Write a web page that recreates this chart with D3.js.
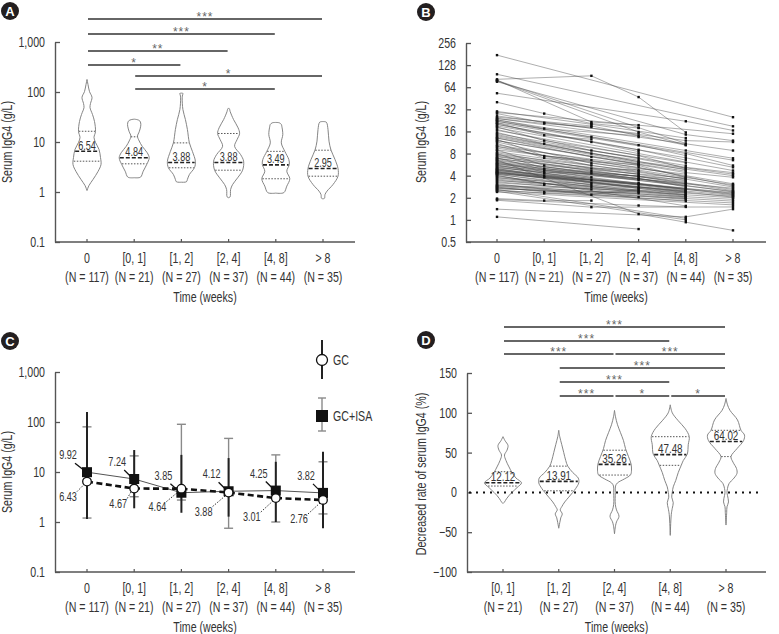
<!DOCTYPE html>
<html><head><meta charset="utf-8">
<script src="https://cdn.jsdelivr.net/npm/d3@7"></script>
<style>
body{margin:0;background:#fff}
svg text{font-family:"Liberation Sans",Arial,sans-serif;fill:#333}
</style></head><body><svg id="c" width="779" height="634"></svg>
<script>
const _ = null;
// ---------- shared categories ----------
const timeCats = ["0","[0, 1]","[1, 2]","[2, 4]","[4, 8]","> 8"];
const timeN = ["(N = 117)","(N = 21)","(N = 27)","(N = 37)","(N = 44)","(N = 35)"];
const rateCats = ["[0, 1]","[1, 2]","[2, 4]","[4, 8]","> 8"];
const rateN = ["(N = 21)","(N = 27)","(N = 37)","(N = 44)","(N = 35)"];
const logTicks = [0.1,1,10,100,1000];
const log2Ticks = [0.5,1,2,4,8,16,32,64,128,256];
const rateTicks = [-100,-50,0,50,100,150];

// ---------- Panel A: violin profiles [value, density] ----------
const violinA = [
 [[178,0],[141,1],[102,2.5],[78,5],[59,3.5],[49,3],[35.5,5.5],[25.7,7.5],[16.2,8.5],[12.3,7],[9.8,8.5],[7.1,12],[4.9,13.5],[3.55,14],[2.57,11],[1.78,6],[1.35,2],[1.07,0]],
 [[28.6,0],[28,3],[26.5,5.5],[24,6.5],[20.7,6.5],[16,5],[13.1,3.3],[10.5,5],[8.2,8],[6.1,13],[4.83,15],[3.55,12.5],[2.6,9],[1.98,6.3],[1.93,0]],
 [[95,0],[93,1.7],[88,1.2],[76.5,0.8],[44.7,1.5],[28.2,4],[17.8,6],[9.6,8],[6.5,11],[4.1,14],[3.05,13],[2.24,8],[1.78,6],[1.6,5],[1.57,0]],
 [[48,0],[45,1],[41,1.5],[28,5],[19.2,9.5],[14.8,11],[11.2,8.5],[8.2,6],[5.6,12],[4.14,15],[2.73,14],[1.92,9],[1.41,4],[1.12,2],[0.8,1.5],[0.77,0]],
 [[24.6,0],[24.2,3.5],[22.5,5.5],[20.7,6],[14.1,7],[9.6,5.5],[6.5,9],[4.47,13],[3.55,13.5],[2.6,11],[1.84,14],[1.31,11],[0.97,8],[0.95,0]],
 [[25.6,0],[24.9,3.3],[17.8,5],[10.4,6],[6.9,8],[4.47,12],[2.95,15],[2.07,15],[1.41,10],[1.04,4],[0.89,2],[0.75,1.5],[0.73,0]]
];
const medianA = [6.54,4.84,3.88,3.88,3.49,2.95];
const q1A = [4.13,3.66,3.05,2.73,1.84,2.07];
const q3A = [16.4,12.7,9.6,14.8,6.5,6.85];
const sigA = [[0,5,"***"],[0,4,"***"],[0,3,"**"],[0,2,"*"],[1,5,"*"],[1,4,"*"]];

// ---------- Panel B: individual patients (null = not measured) ----------
const patients = [
[175,_,_,_,_,25],[96,_,_,_,_,18.8],[82,_,91.5,47,15.5,_],[80,_,21.5,19.5,_,_],[79,_,_,18,11,_],
[78,_,_,15.7,10.5,_],[76,_,_,_,14.5,12],[53,_,_,_,22,16.5],[40,28,20.5,17.8,_,_],[30,_,20,_,13,_],
[29,_,_,_,_,14.9],[28,21,_,15,_,_],[26,_,_,_,12,11.5],[25,_,19,_,10.4,_],[24,20.5,18.4,_,_,_],
[24,_,_,13.4,_,8.8],[23,17.5,_,14,_,_],[23,_,_,_,8.8,6.9],[22,_,_,10.4,7.5,_],[22,_,13.5,_,_,6.5],
[21,14.2,12.5,_,_,_],[21,_,_,_,8,5.5],[20,_,_,9,6.5,_],[20,_,11.5,8.5,_,_],[19,_,_,_,7,5.2],
[18.5,12,_,_,6,_],[18,_,_,8,_,4.7],[17,_,8.8,_,5.5,_],[16.5,_,_,7.5,5,_],[15.5,10.9,_,7,_,_],
[15,_,_,_,5.2,4.4],[14.5,_,8,6.5,_,_],[14,_,_,6.2,_,4.2],[13.5,_,_,_,4.8,_],[13,_,7.2,_,4.6,_],
[13,_,_,6,_,4],[12.5,7.4,6.5,_,_,_],[12,_,_,_,4.4,3.8],[12,_,_,5.8,_,_],[11.5,_,5.9,_,4.2,_],
[11,7,_,5.6,_,_],[10.5,_,_,_,4,3.1],[10,_,_,5.5,3.8,_],[10,_,5.5,_,_,_],[9.5,_,_,_,_,3],
[9,5.5,_,_,3.7,_],[9,_,_,5.2,_,2.9],[8.5,_,_,_,3.6,_],[8.2,_,5,4.8,_,_],[8,5,_,_,3.5,_],
[7.8,_,_,4.6,_,2.8],[7.6,_,_,_,3.4,_],[7.4,_,4.6,_,3.3,_],[7.2,_,_,4.4,_,_],[7,4.8,_,_,_,2.7],
[6.9,_,_,_,3.2,2.6],[6.8,_,_,4.2,_,_],[6.6,_,4.3,_,3.1,_],[6.54,_,_,1.2,0.93,0.72],[6.4,_,_,_,3,_],
[6.3,4.5,_,4,_,_],[6.1,_,_,3.9,_,2.5],[6,_,_,_,2.9,_],[5.9,_,3.8,_,_,_],[5.8,_,_,3.7,2.8,_],
[5.7,_,_,_,_,2.45],[5.6,4.3,_,_,2.7,_],[5.5,_,_,_,2.6,_],[5.4,_,_,3.6,_,2.4],[5.3,_,3.5,_,_,_],
[5.2,_,_,_,2.55,_],[5.1,_,_,3.5,_,_],[5,4,_,_,_,2.35],[4.95,_,_,_,2.5,_],[4.9,_,_,_,2.2,_],
[4.8,_,3.2,_,2.45,_],[4.75,_,_,_,_,2.3],[4.7,_,_,_,_,2.25],[4.6,_,_,_,2.4,_],[4.55,3.8,_,3.2,_,_],
[4.5,_,3,_,_,_],[4.45,_,_,_,2.35,_],[4.4,_,_,3.1,_,2.2],[4.35,_,_,_,2.3,_],[4.3,_,_,_,_,2.15],
[4.25,_,_,3,_,_],[4.2,_,2.8,_,2.2,_],[4.15,_,_,_,2.15,_],[4.05,3.1,_,_,_,2.1],[4,_,_,_,1.55,_],
[3.9,_,_,_,2.1,_],[3.8,_,2.6,_,_,_],[3.7,_,_,2.8,_,2.04],[3.6,_,_,_,2.05,_],[3.5,3,_,_,_,_],
[3.4,_,_,2.7,_,_],[3.3,_,_,_,2,_],[3.2,_,_,_,_,2],[3.1,_,2.2,2.6,_,_],[3,_,_,_,1.95,_],
[2.95,_,_,2.5,_,_],[2.9,_,_,_,_,1.9],[2.85,_,_,_,1.9,_],[2.8,2.4,_,2.4,_,_],[2.75,_,_,_,1.8,_],
[2.7,_,_,_,_,1.8],[2.65,_,_,2.3,_,_],[2.6,_,_,_,1.05,_],[2.55,2.3,_,_,_,1.7],[2.5,_,_,2.04,_,_],
[2.45,_,_,_,1,_],[2.4,_,_,_,_,1.6],[1.95,1.83,1.83,_,_,_],[1.9,_,_,1.57,1.5,_],[1.85,_,1.49,_,_,1.5],
[1.4,_,_,_,1.1,1.4],[1.1,_,_,0.75,_,_]
];

// ---------- Panel C: medians and ranges ----------
const gcMedian = [6.43,4.67,4.64,3.88,3.01,2.76];
const gcLow = [1.15,1.88,1.53,1.28,1.0,0.75];
const gcHigh = [158,27.5,22,19,16,25.5];
const isaMedian = [9.92,7.24,3.85,4.12,4.25,3.82];
const isaLow = [1.2,3.2,2.75,0.75,1.0,1.45];
const isaHigh = [80,21,90,47,22,16];
const seriesNames = ["GC","GC+ISA"];

// ---------- Panel D ----------
const violinD = [
 [[70,0],[65,2],[59,5],[53,4],[47,1.5],[40,3],[32,6],[25,9],[18,13],[12,18.5],[6,14],[0,9],[-4,6],[-8,3.5],[-12,1.5],[-14,0]],
 [[78,0],[70,1],[60,3],[50,5],[40,7],[33,9],[25,14],[18,19.5],[12,20],[5,17],[0,14],[-6,10],[-12,6],[-18,3],[-22,1.5],[-27,3.5],[-32,2],[-38,1],[-45,0]],
 [[103,0],[95,1],[85,3],[75,6],[65,9],[55,11],[45,14],[36,16.5],[28,17],[22,16],[17,10],[12,3],[8,1],[0,0.8],[-15,0.8],[-22,2],[-30,4.5],[-37,2],[-42,1],[-52,0]],
 [[110,0],[100,2],[90,8],[80,15],[70,19],[60,18],[48,17],[40,13],[34,11],[25,8],[15,5.5],[7,3],[0,2],[-6,1.5],[-13,3],[-20,2],[-28,1],[-54,0]],
 [[118,0],[110,1.5],[103,4],[91,11.5],[78,15],[72,18.5],[65,17.5],[55,11],[45,5],[38,7],[30,10.5],[24,11],[18,8],[11,3],[5,1.5],[0,1],[-4,1.5],[-12,2.5],[-18,1],[-25,0.7],[-41,0]]
];
const medianD = [12.12,13.91,35.26,47.48,64.02];
const q1D = [8,2,21.8,34,45];
const q3D = [26,33,53,70,78];
const sigD = [[0,4,"***"],[0,3,"***"],[0,2,"***"],[2,4,"***"],[1,4,"***"],[1,3,"***"],[1,2,"***"],[2,3,"*"],[3,4,"*"]];

// ================= drawing =================
const svg = d3.select("#c");
const AX = "#555";
const SX = 0.76; // horizontal condensing of the text face
const FS = 14;

function T(g,x,y,str,size,anchor,extra){
  return g.append("text").attr("transform",`translate(${x},${y})${extra||""} scale(${SX},1)`)
    .attr("text-anchor",anchor||"middle").style("font-size",size+"px").text(str);
}

function badge(x,y,l){
  svg.append("circle").attr("cx",x).attr("cy",y).attr("r",9).attr("fill","#231f20");
  svg.append("text").attr("x",x).attr("y",y+4.5).attr("text-anchor","middle")
    .style("font-weight","bold").style("font-size","13px").style("fill","#fff").text(l);
}

function axes(o){
  const g = svg.append("g");
  const ya = d3.axisLeft(o.y).tickValues(o.ticks).tickFormat(o.fmt).tickSizeInner(-5).tickSizeOuter(0).tickPadding(9);
  const ag = g.append("g").attr("transform",`translate(${o.ax},0)`).call(ya);
  ag.select(".domain").attr("stroke",AX).attr("stroke-width",1.4);
  ag.selectAll(".tick line").attr("stroke",AX).attr("stroke-width",1.3);
  ag.selectAll(".tick text").style("font-size",FS+"px").style("font-family","'Liberation Sans',Arial,sans-serif").style("fill","#333")
    .attr("x",-10/SX).attr("transform",`scale(${SX},1)`);
  const y0 = o.y.range()[0];
  g.append("line").attr("x1",o.ax).attr("x2",o.xEnd).attr("y1",y0).attr("y2",y0).attr("stroke",AX).attr("stroke-width",1.4);
  o.cats.forEach((c,i)=>{
    const x = o.x(c);
    g.append("line").attr("x1",x).attr("x2",x).attr("y1",y0).attr("y2",y0-3).attr("stroke",AX).attr("stroke-width",1.2);
    T(g,x,y0+21,c,FS);
    T(g,x,y0+40,o.ns[i],FS);
  });
  T(g,(o.ax+o.xEnd)/2,y0+60,"Time (weeks)",FS);
  T(g,o.ylx,o.lyc,o.ylab,FS,"middle"," rotate(-90)");
}

function halfAt(profile, v, y){
  const py = y(v);
  for(let i=0;i<profile.length-1;i++){
    const a=profile[i], b=profile[i+1], ya=y(a[0]), yb=y(b[0]);
    if(py>=ya && py<=yb){ const t=(py-ya)/(yb-ya||1); return a[1]+(b[1]-a[1])*t; }
  }
  return 0;
}

function violins(o){
  const g = svg.append("g");
  const area = d3.area().y(d=>o.y(d[0])).x0(d=>-o.w(d[1])).x1(d=>o.w(d[1])).curve(d3.curveCatmullRom.alpha(0.5));
  o.cats.forEach((c,i)=>{
    const cx = o.x(c);
    const vg = g.append("g").attr("transform",`translate(${cx},0)`);
    vg.append("path").attr("d",area(o.prof[i])).attr("fill","none").attr("stroke","#777").attr("stroke-width",0.9);
    [[o.q1[i],"1.5,1.5",1,"#555"],[o.q3[i],"1.5,1.5",1,"#555"],[o.med[i],"4,2",1.6,"#222"]].forEach(([v,da,sw,col])=>{
      const h = o.w(halfAt(o.prof[i],v,o.y))*0.96;
      vg.append("line").attr("x1",-h).attr("x2",h).attr("y1",o.y(v)).attr("y2",o.y(v))
        .attr("stroke",col).attr("stroke-width",sw).attr("stroke-dasharray",da);
    });
    T(vg,0,o.y(o.med[i])-1.5,o.fmt(o.med[i]),o.fs);
  });
}

function sigBars(o){
  const g = svg.append("g");
  o.sig.forEach((s,k)=>{
    const x1=o.x(o.cats[s[0]])+1, x2=o.x(o.cats[s[1]])-1, yy=o.levels[k];
    g.append("line").attr("x1",x1).attr("x2",x2).attr("y1",yy).attr("y2",yy).attr("stroke","#333").attr("stroke-width",1.6);
    g.append("text").attr("x",(x1+x2)/2).attr("y",yy+2).attr("text-anchor","middle")
      .style("font-size","12px").style("letter-spacing","1px").style("fill","#666").text(s[2]);
  });
}

// ---------- Panel A ----------
const xA = d3.scalePoint().domain(timeCats).range([87,323]);
const yA = d3.scaleLog().domain([0.1,1000]).range([242,42]);
const fmtLog = d3.format(",");
axes({y:yA,x:xA,ticks:logTicks,fmt:v=>fmtLog(v),ax:55,xEnd:355,cats:timeCats,ns:timeN,ylab:"Serum IgG4 (g/L)",ylx:12,lyc:142});
violins({x:xA,y:yA,cats:timeCats,prof:violinA,q1:q1A,q3:q3A,med:medianA,w:d3.scaleLinear().domain([0,15]).range([0,15]),fmt:d3.format(".2f"),fs:12});
sigBars({x:xA,cats:timeCats,sig:sigA,levels:[19,34,51,65,76,89]});
badge(10,11,"A");

// ---------- Panel B ----------
const xB = d3.scalePoint().domain(timeCats).range([497,733]);
const yB = d3.scaleLog().base(2).domain([0.5,256]).range([242,43]);
axes({y:yB,x:xB,ticks:log2Ticks,fmt:d3.format("~g"),ax:466,xEnd:766,cats:timeCats,ns:timeN,ylab:"Serum IgG4 (g/L)",ylx:426,lyc:142});
const gB = svg.append("g");
const lineB = d3.line().x(d=>xB(timeCats[d[0]])).y(d=>yB(d[1]));
patients.forEach(p=>{
  const pts = p.map((v,i)=>[i,v]).filter(d=>d[1]!==null);
  gB.append("path").attr("d",lineB(pts)).attr("fill","none").attr("stroke","#444").attr("stroke-width",0.55).attr("stroke-opacity",0.8);
});
patients.forEach(p=>{
  p.forEach((v,i)=>{ if(v===null) return;
    gB.append("rect").attr("x",xB(timeCats[i])-1.2).attr("y",yB(v)-1.2).attr("width",2.4).attr("height",2.4).attr("fill","#111");
  });
});
badge(426,12,"B");

// ---------- Panel C ----------
const xC = d3.scalePoint().domain(timeCats).range([87,323]);
const yC = d3.scaleLog().domain([0.1,1000]).range([572,372]);
axes({y:yC,x:xC,ticks:logTicks,fmt:v=>fmtLog(v),ax:55,xEnd:355,cats:timeCats,ns:timeN,ylab:"Serum IgG4 (g/L)",ylx:12,lyc:472});
const gC = svg.append("g");
timeCats.forEach((c,i)=>{
  const x=xC(c);
  gC.append("line").attr("x1",x).attr("x2",x).attr("y1",yC(isaHigh[i])).attr("y2",yC(isaLow[i])).attr("stroke","#8a8a8a").attr("stroke-width",1.4);
  [isaHigh[i],isaLow[i]].forEach(v=>gC.append("line").attr("x1",x-4.5).attr("x2",x+4.5).attr("y1",yC(v)).attr("y2",yC(v)).attr("stroke","#8a8a8a").attr("stroke-width",1.4));
});
timeCats.forEach((c,i)=>{
  const x=xC(c);
  gC.append("line").attr("x1",x).attr("x2",x).attr("y1",yC(gcHigh[i])).attr("y2",yC(gcLow[i])).attr("stroke","#222").attr("stroke-width",2);
});
const lineC = d3.line().x((d,i)=>xC(timeCats[i])).y(d=>yC(d));
gC.append("path").attr("d",lineC(isaMedian)).attr("fill","none").attr("stroke","#555").attr("stroke-width",1);
gC.append("path").attr("d",lineC(gcMedian)).attr("fill","none").attr("stroke","#111").attr("stroke-width",2.6).attr("stroke-dasharray","6,3.5");
const isaOff = [[-19,-13],[-17,-13],[-18,-13],[-17,-13],[-17,-13],[-17,-13]];
const gcOff = [[-19,19],[-16,19],[-24,22],[-25,23],[-24,23],[-24,23]];
timeCats.forEach((c,i)=>{
  const x=xC(c), yi=yC(isaMedian[i]), yg=yC(gcMedian[i]);
  const [dx,dy]=isaOff[i];
  gC.append("line").attr("x1",x+dx+7).attr("y1",yi+dy+4).attr("x2",x-3).attr("y2",yi-2).attr("stroke","#111").attr("stroke-width",1.3);
  T(gC,x+dx,yi+dy,d3.format(".2f")(isaMedian[i]),12);
  const [ex,ey]=gcOff[i];
  gC.append("line").attr("x1",x+ex+9).attr("y1",yg+ey-9).attr("x2",x-3).attr("y2",yg+3).attr("stroke","#333").attr("stroke-width",1).attr("stroke-dasharray","1.5,1.5");
  T(gC,x+ex,yg+ey,d3.format(".2f")(gcMedian[i]),12);
});
timeCats.forEach((c,i)=>{
  const x=xC(c);
  gC.append("rect").attr("x",x-5).attr("y",yC(isaMedian[i])-5).attr("width",10).attr("height",10).attr("fill","#111");
  gC.append("circle").attr("cx",x).attr("cy",yC(gcMedian[i])).attr("r",4.3).attr("fill","#fff").attr("stroke","#111").attr("stroke-width",1.3);
});
const lg = svg.append("g");
lg.append("line").attr("x1",322).attr("x2",322).attr("y1",340).attr("y2",379).attr("stroke","#222").attr("stroke-width",2);
lg.append("circle").attr("cx",322).attr("cy",360).attr("r",5.5).attr("fill","#fff").attr("stroke","#111").attr("stroke-width",1.3);
T(lg,333,365,seriesNames[0],FS,"start");
lg.append("line").attr("x1",322).attr("x2",322).attr("y1",398).attr("y2",431).attr("stroke","#8a8a8a").attr("stroke-width",1.4);
[398,431].forEach(v=>lg.append("line").attr("x1",318).attr("x2",326).attr("y1",v).attr("y2",v).attr("stroke","#8a8a8a").attr("stroke-width",1.4));
lg.append("rect").attr("x",316).attr("y",410).attr("width",12).attr("height",12).attr("fill","#111");
T(lg,333,421,seriesNames[1],FS,"start");
badge(10,341,"C");

// ---------- Panel D ----------
const xD = d3.scalePoint().domain(rateCats).range([503,726]);
const yD = d3.scaleLinear().domain([-100,150]).range([572,373]);
axes({y:yD,x:xD,ticks:rateTicks,fmt:d3.format("d"),ax:467,xEnd:766,cats:rateCats,ns:rateN,ylab:"Decreased rate of serum IgG4 (%)",ylx:426,lyc:474});
svg.append("line").attr("x1",469).attr("x2",762).attr("y1",yD(0)).attr("y2",yD(0)).attr("stroke","#111").attr("stroke-width",2).attr("stroke-dasharray","2,5");
violins({x:xD,y:yD,cats:rateCats,prof:violinD,q1:q1D,q3:q3D,med:medianD,w:d3.scaleLinear().domain([0,15]).range([0,15]),fmt:d3.format(".2f"),fs:13});
sigBars({x:xD,cats:rateCats,sig:sigD,levels:[327,341,354,354,368,382,396,396,396]});
badge(426,340,"D");
</script></body></html>
